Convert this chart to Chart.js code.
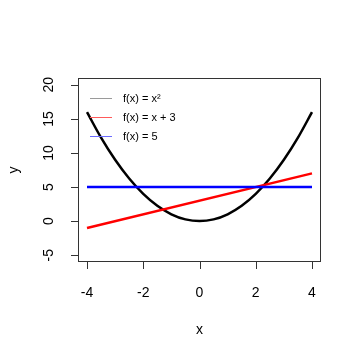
<!DOCTYPE html>
<html lang="en">
<head>
    <meta charset="UTF-8">
    <title>f(x)</title>
    <script src="https://cdn.jsdelivr.net/npm/chart.js@4/dist/chart.umd.min.js"></script>
    <style>
        body { margin: 0; background: #fff; }
    </style>
</head>
<body>
<div style="width: 361px; height: 360px;">
    <canvas id="grafica" width="361" height="360"></canvas>
</div>

<script>
// datos
var xCurva = [-4, -3.5, -3, -2.5, -2, -1.5, -1, -0.5, 0, 0.5, 1, 1.5, 2, 2.5, 3, 3.5, 4];
var yCurva = [16, 12.25, 9, 6.25, 4, 2.25, 1, 0.25, 0, 0.25, 1, 2.25, 4, 6.25, 9, 12.25, 16];
var xRecta = [-4, 4];
var yRecta = [-1, 7];
var yConst = [5, 5];
var xTicks = [-4, -2, 0, 2, 4];
var yTicks = [-5, 0, 5, 10, 15, 20];
var etiquetas = ['f(x) = x\u00b2', 'f(x) = x + 3', 'f(x) = 5'];
var colorLeyenda = ['#9a9a9a', '#ff5a5a', '#6b6bff'];

function puntos(xs, ys) {
    return xs.map(function (x, i) { return { x: x, y: ys[i] }; });
}

var fuente = '"Liberation Sans", Arial, sans-serif';

// ejes estilo R: linea de eje solo entre ticks, caja, etiquetas rotadas
var ejesR = {
    id: 'ejesR',
    afterDraw: function (chart) {
        var ctx = chart.ctx;
        var a = chart.chartArea;
        var sx = chart.scales.x, sy = chart.scales.y;
        ctx.save();
        ctx.strokeStyle = '#333';
        ctx.lineWidth = 1;
        ctx.strokeRect(a.left + 0.5, a.top + 0.5, a.right - a.left - 1, a.bottom - a.top - 1);

        ctx.beginPath();
        var x0 = sx.getPixelForValue(xTicks[0]), x1 = sx.getPixelForValue(xTicks[xTicks.length - 1]);
        ctx.moveTo(x0, a.bottom - 0.5); ctx.lineTo(x1, a.bottom - 0.5);
        xTicks.forEach(function (t) {
            var px = Math.round(sx.getPixelForValue(t)) + 0.5;
            ctx.moveTo(px, a.bottom); ctx.lineTo(px, a.bottom + 7);
        });
        var y0 = sy.getPixelForValue(yTicks[0]), y1 = sy.getPixelForValue(yTicks[yTicks.length - 1]);
        ctx.moveTo(a.left + 0.5, y0); ctx.lineTo(a.left + 0.5, y1);
        yTicks.forEach(function (t) {
            var py = Math.round(sy.getPixelForValue(t)) + 0.5;
            ctx.moveTo(a.left, py); ctx.lineTo(a.left - 7, py);
        });
        ctx.stroke();

        ctx.fillStyle = '#000';
        ctx.font = '14px ' + fuente;
        ctx.textAlign = 'center';
        ctx.textBaseline = 'middle';
        xTicks.forEach(function (t) {
            ctx.fillText(String(t), sx.getPixelForValue(t), a.bottom + 31);
        });
        yTicks.forEach(function (t) {
            ctx.save();
            ctx.translate(a.left - 29, sy.getPixelForValue(t));
            ctx.rotate(-Math.PI / 2);
            ctx.fillText(String(t), 0, 0);
            ctx.restore();
        });

        // titulos de ejes
        ctx.fillText('x', (a.left + a.right) / 2, a.bottom + 68);
        ctx.save();
        ctx.translate(14, (a.top + a.bottom) / 2);
        ctx.rotate(-Math.PI / 2);
        ctx.fillText('y', 0, 0);
        ctx.restore();

        // leyenda
        ctx.font = '11px ' + fuente;
        ctx.textAlign = 'left';
        etiquetas.forEach(function (et, i) {
            var py = a.top + 20.5 + i * 19;
            ctx.strokeStyle = colorLeyenda[i];
            ctx.beginPath();
            ctx.moveTo(a.left + 12, py); ctx.lineTo(a.left + 34, py);
            ctx.stroke();
            ctx.fillText(et, a.left + 45, py);
        });
        ctx.restore();
    }
};

var ctx = document.getElementById('grafica').getContext('2d');
var chart = new Chart(ctx, {
    type: 'scatter',
    data: {
        datasets: [{
            label: etiquetas[0],
            data: puntos(xCurva, yCurva),
            borderColor: '#000',
            borderWidth: 2.5,
            showLine: true,
            pointRadius: 0,
            cubicInterpolationMode: 'monotone',
            order: 3
        }, {
            label: etiquetas[1],
            data: puntos(xRecta, yRecta),
            borderColor: '#ff0000',
            borderWidth: 2.5,
            showLine: true,
            pointRadius: 0,
            order: 2
        }, {
            label: etiquetas[2],
            data: puntos(xRecta, yConst),
            borderColor: '#0000ff',
            borderWidth: 2.5,
            showLine: true,
            pointRadius: 0,
            order: 1
        }]
    },
    options: {
        responsive: false,
        animation: false,
        layout: { padding: { left: 78, right: 40, top: 78, bottom: 98 } },
        plugins: { legend: { display: false }, tooltip: { enabled: false } },
        scales: {
            x: { type: 'linear', min: -4.32, max: 4.32, display: false },
            y: { type: 'linear', min: -6, max: 21, display: false }
        }
    },
    plugins: [ejesR]
});
</script>
</body>
</html>
